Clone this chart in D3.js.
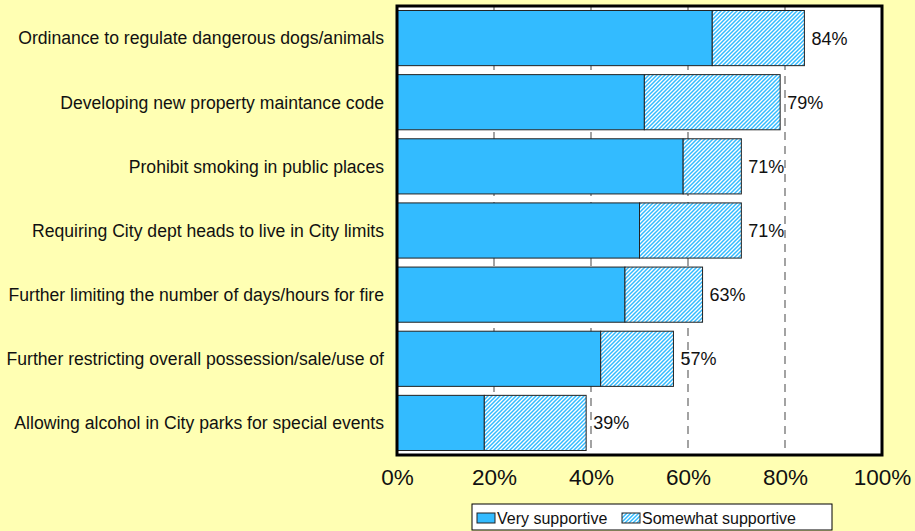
<!DOCTYPE html>
<html>
<head>
<meta charset="utf-8">
<script src="https://cdn.jsdelivr.net/npm/d3@7"></script>
<style>
  html, body { margin: 0; padding: 0; background: #FFFFB3; }
  svg { display: block; }
  text { font-family: "Liberation Sans", Arial, sans-serif; fill: #111; }
</style>
</head>
<body>
<svg id="chart" width="915" height="531"></svg>
<script>
// Survey items, top to bottom
const categories = [
  "Ordinance to regulate dangerous dogs/animals",
  "Developing new property maintance code",
  "Prohibit smoking in public places",
  "Requiring City dept heads to live in City limits",
  "Further limiting the number of days/hours for fire",
  "Further restricting overall possession/sale/use of",
  "Allowing alcohol in City parks for special events"
];
// Percent of respondents
const verySupportive     = [65, 51, 59, 50, 47, 42, 18];
const somewhatSupportive = [19, 28, 12, 21, 16, 15, 21];
const seriesNames = ["Very supportive", "Somewhat supportive"];
const xTicks = [0, 20, 40, 60, 80, 100];

const svg = d3.select("#chart");
const plot = { left: 397, right: 882, top: 6, bottom: 455 };

const x = d3.scaleLinear().domain([0, 100]).range([plot.left, plot.right]);
const y = d3.scaleBand().domain(categories).range([plot.top, plot.bottom])
  .paddingInner(0.14).paddingOuter(0.07);

const blue = "#33BBFF";

// Diagonal hatch for the "somewhat" segment
const defs = svg.append("defs");
const pat = defs.append("pattern")
  .attr("id", "hatch")
  .attr("patternUnits", "userSpaceOnUse")
  .attr("width", 4).attr("height", 4);
pat.append("rect").attr("width", 4).attr("height", 4).attr("fill", "#fff");
pat.append("path")
  .attr("d", "M-1,1 l2,-2 M0,4 l4,-4 M3,5 l2,-2")
  .attr("stroke", blue).attr("stroke-width", 1.5);

// Plot background
svg.append("rect")
  .attr("x", plot.left).attr("y", plot.top)
  .attr("width", plot.right - plot.left).attr("height", plot.bottom - plot.top)
  .attr("fill", "#fff");

// Dashed vertical gridlines
svg.append("g").selectAll("line")
  .data(xTicks.filter(d => d > 0 && d < 100))
  .join("line")
  .attr("x1", d => x(d)).attr("x2", d => x(d))
  .attr("y1", plot.top).attr("y2", plot.bottom)
  .attr("stroke", "#666").attr("stroke-width", 1.2)
  .attr("stroke-dasharray", "8,6");

// Stacked bars
const rows = categories.map((c, i) => ({
  cat: c, v: verySupportive[i], s: somewhatSupportive[i]
}));
const bars = svg.append("g");
bars.selectAll("rect.very").data(rows).join("rect")
  .attr("class", "very")
  .attr("x", x(0)).attr("y", d => y(d.cat))
  .attr("width", d => x(d.v) - x(0)).attr("height", y.bandwidth())
  .attr("fill", blue).attr("stroke", "#222").attr("stroke-width", 1);
bars.selectAll("rect.some").data(rows).join("rect")
  .attr("class", "some")
  .attr("x", d => x(d.v)).attr("y", d => y(d.cat))
  .attr("width", d => x(d.v + d.s) - x(d.v)).attr("height", y.bandwidth())
  .attr("fill", "url(#hatch)").attr("stroke", "#222").attr("stroke-width", 1);

// Total labels
svg.append("g").selectAll("text").data(rows).join("text")
  .attr("x", d => x(d.v + d.s) + 7)
  .attr("y", d => y(d.cat) + y.bandwidth() / 2)
  .attr("dy", "0.36em")
  .attr("font-size", 18)
  .text(d => (d.v + d.s) + "%");

// Plot frame
svg.append("rect")
  .attr("x", plot.left).attr("y", plot.top)
  .attr("width", plot.right - plot.left).attr("height", plot.bottom - plot.top)
  .attr("fill", "none").attr("stroke", "#000").attr("stroke-width", 3);

// Category axis labels
svg.append("g").selectAll("text").data(categories).join("text")
  .attr("x", 384)
  .attr("y", d => y(d) + y.bandwidth() / 2)
  .attr("dy", "0.36em")
  .attr("text-anchor", "end")
  .attr("font-size", 17.6)
  .text(d => d);

// Value axis labels
const xAxis = d3.axisBottom(x).tickValues(xTicks).tickFormat(d => d + "%").tickSize(0).tickPadding(14);
const gx = svg.append("g").attr("transform", `translate(0,${plot.bottom})`).call(xAxis);
gx.select(".domain").remove();
gx.selectAll("text").attr("font-size", 22.5).attr("font-family", "'Liberation Sans', Arial, sans-serif").attr("fill", "#111");

// Legend
const lg = svg.append("g").attr("transform", "translate(472,504)");
lg.append("rect").attr("width", 360).attr("height", 26)
  .attr("fill", "#fff").attr("stroke", "#000").attr("stroke-width", 1);
const items = [
  { name: seriesNames[0], fill: blue, x: 5 },
  { name: seriesNames[1], fill: "url(#hatch)", x: 150 }
];
items.forEach(it => {
  lg.append("rect").attr("x", it.x).attr("y", 9).attr("width", 18).attr("height", 10)
    .attr("fill", it.fill).attr("stroke", "#222").attr("stroke-width", 1);
  lg.append("text").attr("x", it.x + 20).attr("y", 14).attr("dy", "0.36em")
    .attr("font-size", 16).text(it.name);
});
</script>
</body>
</html>
